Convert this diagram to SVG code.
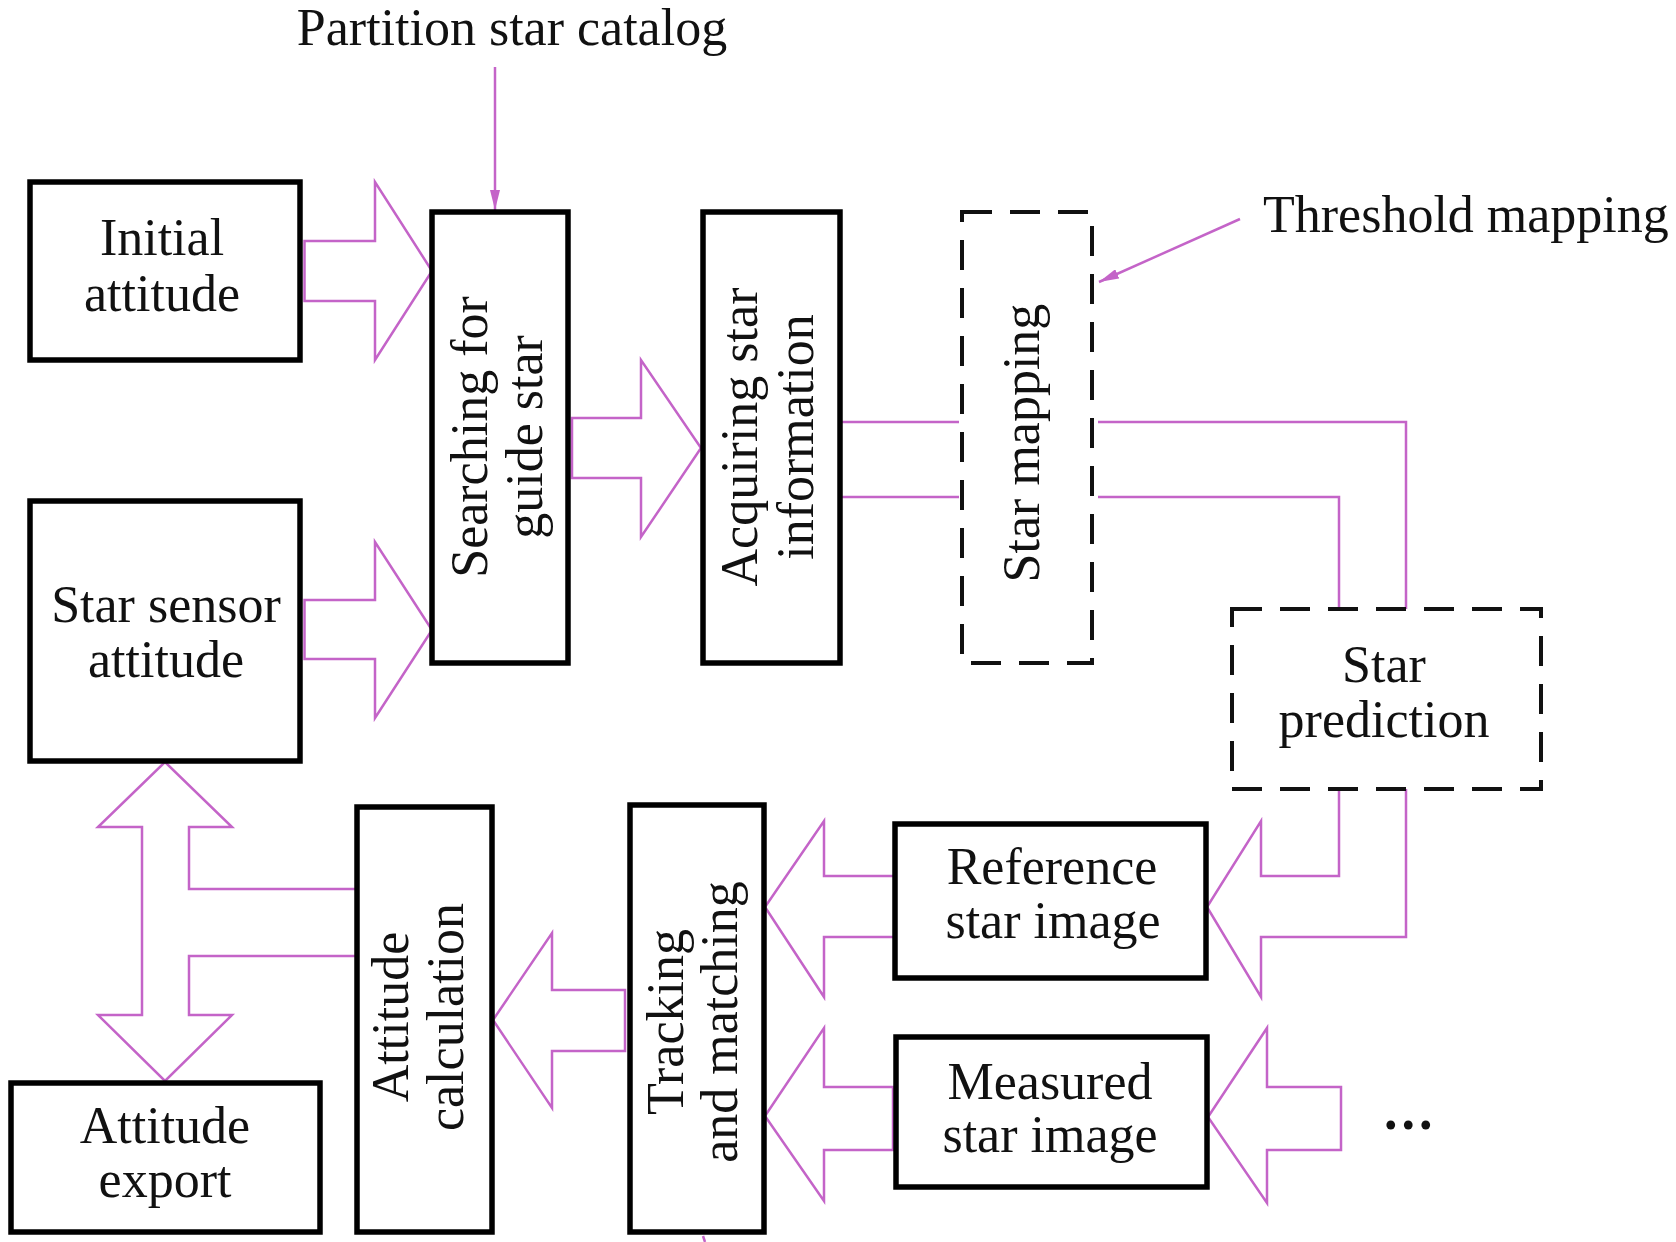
<svg xmlns="http://www.w3.org/2000/svg" width="1676" height="1242" viewBox="0 0 1676 1242">
<style>
.box{fill:#fff;stroke:#000;stroke-width:5.5}
.dbox{fill:none;stroke:#111;stroke-width:4;stroke-dasharray:30 18}
.blk{fill:none;stroke:#c464c8;stroke-width:2.5;stroke-linejoin:miter}
.ln{fill:none;stroke:#c464c8;stroke-width:2.5}
.t{font-family:"Liberation Serif","Times New Roman",serif;font-size:52px;fill:#111;text-anchor:middle}
.tl{font-family:"Liberation Serif","Times New Roman",serif;font-size:52px;fill:#111}
</style>
<defs>
<marker id="ah" viewBox="0 0 20 10" refX="20" refY="5" markerWidth="20" markerHeight="10" markerUnits="userSpaceOnUse" orient="auto">
<path d="M0,0 L20,5 L0,10 Z" fill="#c464c8"/>
</marker>
</defs>
<rect width="1676" height="1242" fill="#fff"/>

<g id="connectors">
<line class="ln" x1="495" y1="67" x2="495" y2="210" marker-end="url(#ah)"/>
<line class="ln" x1="1240" y1="219" x2="1099" y2="282" marker-end="url(#ah)"/>
<polygon class="blk" points="304.5,241 375,241 375,182 432,271 375,360 375,301 304.5,301"/>
<polygon class="blk" points="304.5,600 375,600 375,542 432,630 375,718 375,659 304.5,659"/>
<polygon class="blk" points="572,418 641,418 641,360 701,448 641,537 641,478 572,478"/>
<polyline class="ln" points="840,422 959,422"/>
<polyline class="ln" points="840,497 959,497"/>
<polyline class="ln" points="1098,422 1406,422 1406,609"/>
<polyline class="ln" points="1098,497 1339,497 1339,609"/>
<polyline class="blk" points="1339,789 1339,876 1261,876 1261,821 1207,907 1261,997 1261,937 1406,937 1406,789"/>
<polygon class="blk" points="1341,1087 1267,1087 1267,1028 1208,1117 1267,1203 1267,1150 1341,1150"/>
<polygon class="blk" points="895,876 824,876 824,821 765,907 824,997 824,937 895,937"/>
<polygon class="blk" points="893,1087 824,1087 824,1028 765,1116 824,1201 824,1150 893,1150"/>
<polygon class="blk" points="625,990 552,990 552,933 493,1020 552,1108 552,1051 625,1051"/>
<polyline class="blk" points="356,956 189,956 189,1015 232,1015 165,1081 98,1015 142,1015 142,827 98,827 165,762 232,827 189,827 189,889 356,889"/>
<line class="ln" x1="703" y1="1236" x2="705" y2="1242"/>
</g>

<g id="label-partition"><text class="t" x="512" y="45">Partition star catalog</text></g>
<g id="label-threshold"><text class="tl" x="1263" y="232">Threshold mapping</text></g>

<g id="node-initial">
<rect class="box" x="30" y="182" width="270" height="178"/>
<text class="t" x="162" y="255">Initial</text>
<text class="t" x="162" y="311">attitude</text>
</g>

<g id="node-sensor">
<rect class="box" x="30" y="501" width="270" height="260"/>
<text class="t" x="166" y="622">Star sensor</text>
<text class="t" x="166" y="677">attitude</text>
</g>

<g id="node-searching">
<rect class="box" x="432" y="212" width="136" height="451"/>
<text class="t" transform="translate(500,437) rotate(-90)"><tspan x="0" y="-13">Searching for</tspan><tspan x="0" y="42">guide star</tspan></text>
</g>

<g id="node-acquiring">
<rect class="box" x="703" y="212" width="137" height="451"/>
<text class="t" transform="translate(771,437) rotate(-90)"><tspan x="0" y="-14">Acquiring star</tspan><tspan x="0" y="42">information</tspan></text>
</g>

<g id="node-starmapping">
<rect class="dbox" x="962" y="212" width="130" height="451"/>
<text class="t" transform="translate(1027,443) rotate(-90)"><tspan x="0" y="12">Star mapping</tspan></text>
</g>

<g id="node-prediction">
<rect class="dbox" x="1232" y="609" width="309" height="180"/>
<text class="t" x="1384" y="682">Star</text>
<text class="t" x="1384" y="737">prediction</text>
</g>

<g id="node-reference">
<rect class="box" x="895" y="824" width="311" height="154"/>
<text class="t" x="1052" y="884">Reference</text>
<text class="t" x="1053" y="938">star image</text>
</g>

<g id="node-measured">
<rect class="box" x="896" y="1037" width="311" height="150"/>
<text class="t" x="1050" y="1099">Measured</text>
<text class="t" x="1050" y="1152">star image</text>
</g>

<g id="node-tracking">
<rect class="box" x="630" y="805" width="134" height="427"/>
<text class="t" transform="translate(697,1022) rotate(-90)"><tspan x="0" y="-14">Tracking</tspan><tspan x="0" y="40">and matching</tspan></text>
</g>

<g id="node-calculation">
<rect class="box" x="357" y="807" width="135" height="425"/>
<text class="t" transform="translate(424,1017) rotate(-90)"><tspan x="0" y="-16">Attitude</tspan><tspan x="0" y="39">calculation</tspan></text>
</g>

<g id="node-export">
<rect class="box" x="11" y="1083" width="309" height="149"/>
<text class="t" x="165" y="1143">Attitude</text>
<text class="t" x="165" y="1197">export</text>
</g>

<g id="label-more"><text class="tl" x="1384" y="1129" style="font-weight:bold;font-size:54px;letter-spacing:4px">...</text></g>
</svg>
